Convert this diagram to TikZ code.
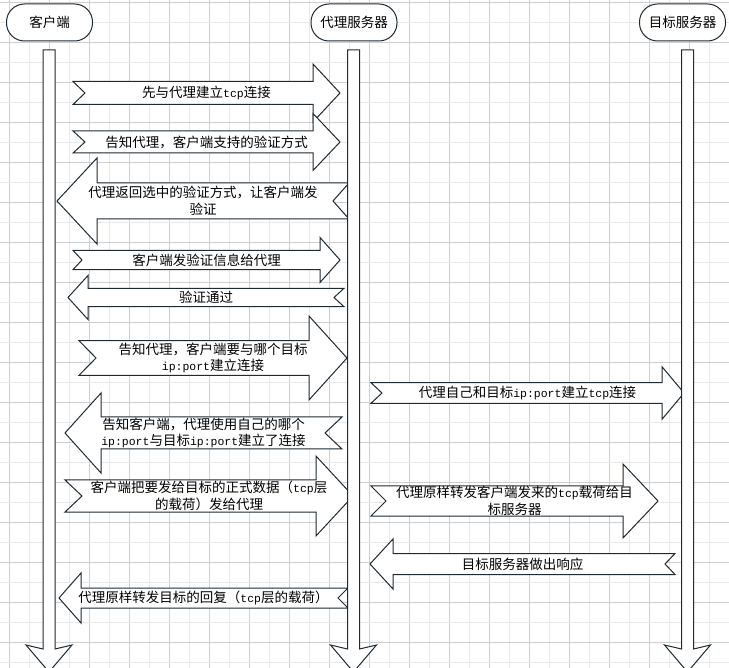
\documentclass[tikz,border=0pt]{standalone}
\usepackage{fontspec}
\setmainfont{Noto Sans CJK SC}
\newfontfamily\monof{Liberation Mono}[Scale=0.85]
\newcommand{\lt}[1]{{\monof #1}}
\definecolor{linec}{HTML}{1F2A33}
\definecolor{gridD}{HTML}{CFCFCF}
\definecolor{gridL}{HTML}{E8E8E8}
% right arrow: name, tail, notch, headbase, tip, cy, bodyhalf, headhalf, text
\newcommand{\rarr}[9]{%
  \draw[blk] (#2,#6-#7) -- (#4,#6-#7) -- (#4,#6-#8) -- (#5,#6) -- (#4,#6+#8) -- (#4,#6+#7) -- (#2,#6+#7) -- (#2+#3,#6) -- cycle;
  \node[lbl] (#1) at ({(#2+#5)/2},#6) {#9};
}
% left arrow: name, tip, headbase, tail, notch, cy, bodyhalf, headhalf, text
\newcommand{\larr}[9]{%
  \draw[blk] (#2,#6) -- (#3,#6-#8) -- (#3,#6-#7) -- (#4,#6-#7) -- (#4-#5,#6) -- (#4,#6+#7) -- (#3,#6+#7) -- (#3,#6+#8) -- cycle;
  \node[lbl] (#1) at ({(#2+#4)/2},#6) {#9};
}
% lifeline: name, center x
\newcommand{\lifeline}[2]{%
  \draw[blk] (#2-6,50) -- (#2+6,50) -- (#2+6,649) -- (#2+23,645) -- (#2,672) -- (#2-23,645) -- (#2-6,649) -- cycle;
  \coordinate (#1) at (#2,50);
}
\begin{document}
\begin{tikzpicture}[x=1pt,y=-1pt,
  blk/.style={draw=linec, fill=white, line width=1pt, line join=miter},
  lbl/.style={font=\fontsize{13.5}{16.5}\selectfont, align=center, inner sep=0pt, text=black},
  hdr/.style={draw=linec, fill=white, line width=1pt, rounded corners=18pt, minimum width=86pt, minimum height=37pt, inner sep=0pt, font=\fontsize{13.5}{16.5}\selectfont}]
\useasboundingbox (0,0) rectangle (729,668);
\fill[white] (0,0) rectangle (729,668);
% grid
\foreach \i in {0,...,18} {
  \draw[gridD, line width=1pt] (9.3+40*\i,0) -- (9.3+40*\i,668);
  \draw[gridL, line width=1pt] (29.3+40*\i,0) -- (29.3+40*\i,668);
}
\foreach \i in {0,...,16} {
  \draw[gridD, line width=1pt] (0,2.5+40*\i) -- (729,2.5+40*\i);
  \draw[gridL, line width=1pt] (0,22.5+40*\i) -- (729,22.5+40*\i);
}
% headers
\node[hdr] (client) at (49.5,22.5) {客户端};
\node[hdr] (proxy) at (354,22.5) {代理服务器};
\node[hdr] (target) at (682.5,22.5) {目标服务器};
% messages
\rarr{m1}{73}{12}{313}{340}{93}{11.5}{29}{先与代理建立\lt{tcp}连接}
\rarr{m2}{73}{12}{313}{340}{142}{11}{28.5}{告知代理，客户端支持的验证方式}
\larr{m3}{57}{97}{349}{16}{201}{18}{43}{代理返回选中的验证方式，让客户端发\\验证}
\rarr{m4}{73}{9}{320}{340}{260}{9.7}{22.5}{客户端发验证信息给代理}
\larr{m5}{68}{88}{344}{10}{297.5}{9.2}{22}{验证通过}
\rarr{m6}{79}{17}{309}{347}{358}{17.3}{42}{告知代理，客户端要与哪个目标\\\lt{ip:port}建立连接}
\rarr{m10}{371}{11}{662}{684}{393}{10.3}{26.3}{代理自己和目标\lt{ip:port}建立\lt{tcp}连接}
\larr{m7}{65}{101}{342}{17}{433}{16}{40}{告知客户端，代理使用自己的哪个\\\lt{ip:port}与目标\lt{ip:port}建立了连接}
\rarr{m8}{65}{17}{316}{353}{496}{16}{40}{客户端把要发给目标的正式数据（\lt{tcp}层\\的载荷）发给代理}
\rarr{m11}{371}{15}{623}{658}{501}{15}{37}{代理原样转发客户端发来的\lt{tcp}载荷给目\\标服务器}
\larr{m12}{370}{393}{675}{10}{564}{10.5}{25}{目标服务器做出响应}
\larr{m9}{59}{81}{348}{10}{598}{10}{25}{代理原样转发目标的回复（\lt{tcp}层的载荷）}
% lifelines
\lifeline{lc}{49}
\lifeline{lp}{353.5}
\lifeline{lt}{687.5}
\end{tikzpicture}
\end{document}
